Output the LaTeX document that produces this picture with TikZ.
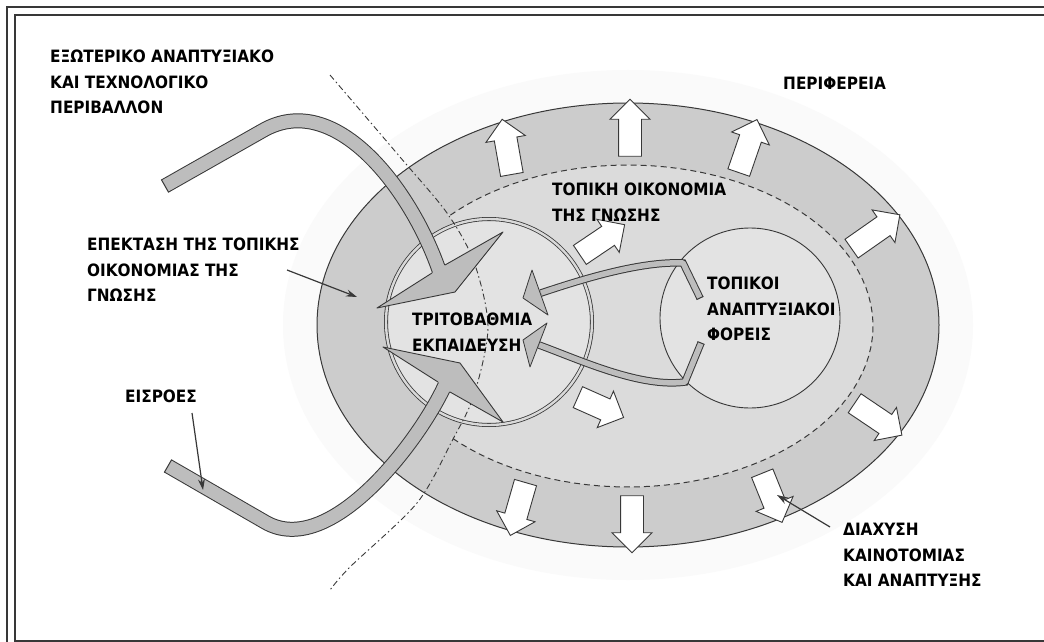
\documentclass[tikz,border=0pt]{standalone}
\usepackage{fontspec}
\newfontfamily\lblfont{DejaVu Sans Condensed}[BoldFont={DejaVu Sans Condensed Bold}]
\usetikzlibrary{shapes.arrows,arrows.meta}
\definecolor{ringc}{gray}{0.80}
\definecolor{innerc}{gray}{0.86}
\definecolor{circc}{gray}{0.89}
\definecolor{bandc}{gray}{0.74}
\definecolor{edgec}{gray}{0.22}
\definecolor{haloc}{gray}{0.982}
\begin{document}
\begin{tikzpicture}[x=1pt,y=-1pt,
  lab/.style={anchor=north west, align=left, inner sep=0pt, text=black,
    font=\lblfont\bfseries\fontsize{17}{25.5}\selectfont},
  warrow/.style={single arrow, draw=edgec, fill=white, line width=0.9pt,
    single arrow head extend=8.5pt, single arrow tip angle=90,
    inner sep=0pt, outer sep=0pt},
  pointer/.style={draw=edgec, line width=1.2pt, -{Stealth[length=11pt,width=7pt]}},
  bigband/.style={draw=bandc, line width=13pt, line join=round,
    preaction={draw=edgec, line width=15pt}},
  smallband/.style={draw=bandc, line width=5.5pt, line join=round,
    preaction={draw=edgec, line width=7.5pt}},
  bandcap/.style={draw=edgec, line width=1pt},
  headfill/.style={fill=bandc},
  headedge/.style={draw=edgec, line width=0.9pt, line join=round},
  dashdot/.style={draw=edgec, line width=0.9pt, dash pattern=on 6pt off 3pt on 1.5pt off 3pt},
  innerdash/.style={draw=edgec, line width=1pt, dash pattern=on 6pt off 4pt}
]
\useasboundingbox (0,0) rectangle (1044,642);
\clip (0,0) rectangle (1044,642);
\fill[white] (0,0) rectangle (1044,642);

% frame
\draw[edgec, line width=2pt] (7,7) rectangle (1070,700);
\draw[edgec, line width=2pt] (15,15) rectangle (1060,641);

% halo and ellipses
\fill[haloc] (628,325) ellipse [x radius=345, y radius=255];
\filldraw[fill=ringc, draw=edgec, line width=1pt] (628,325) ellipse [x radius=311, y radius=222];
\fill[innerc] plot[domain=-136.5:136.5, samples=90] ({628+245*cos(\x)},{326+161*sin(\x)})
  -- plot[smooth] coordinates {(452,441) (474,395) (488,327) (474,262) (447,213)} -- cycle;
\draw[innerdash] plot[domain=-136.5:136.5, samples=90] ({628+245*cos(\x)},{326+161*sin(\x)});

% outward white arrows on the ring
\node[warrow, minimum height=56pt, rotate=100] (w1) at (508,152.5) {\rule{0pt}{22pt}};
\node[warrow, minimum height=57pt, rotate=90] (w2) at (630,133.5) {\rule{0pt}{22pt}};
\node[warrow, minimum height=56pt, rotate=71] (w3) at (746,151.5) {\rule{0pt}{22pt}};
\node[warrow, minimum height=59pt, rotate=35] (w4) at (871,235) {\rule{0pt}{22pt}};
\node[warrow, minimum height=57pt, rotate=-34] (w5) at (873.5,416) {\rule{0pt}{22pt}};
\node[warrow, minimum height=53pt, rotate=-68] (w6) at (770,492.5) {\rule{0pt}{22pt}};
\node[warrow, minimum height=57pt, rotate=-90] (w7) at (632,518.5) {\rule{0pt}{22pt}};
\node[warrow, minimum height=55pt, rotate=-106] (w8) at (519.5,503.5) {\rule{0pt}{22pt}};

% circles
\node[circle, draw=edgec, line width=0.9pt, fill=circc, minimum size=180pt, inner sep=0pt] (agents) at (750,318) {};
\node[circle, draw=edgec, line width=0.8pt, double=white!85!black, double distance=2.4pt,
  fill=circc, minimum size=206pt, inner sep=0pt] (tert) at (489,322) {};

% white arrows from the inner circle
\node[warrow, minimum height=54pt, rotate=34] (w9) at (597.5,243) {\rule{0pt}{22pt}};
\node[warrow, minimum height=50pt, rotate=-24] (w10) at (595.5,405) {\rule{0pt}{22pt}};

% dash-dot boundary
\draw[dashdot] plot[smooth] coordinates {(330,75) (400,157) (447,213) (474,262) (488,327) (474,395) (452,441) (417,503) (350,567) (330,590)};

% big inflow bands
\coordinate (ua) at (165,186);
\coordinate (ub) at (262,131);
\coordinate (uc) at (440,273);
\draw[bigband] (ua) -- (ub) .. controls (335,88) and (412,190) .. (uc);
\draw[bandcap] (161.3,179.5) -- (168.7,192.5);
\fill[headfill] (377,308) -- (432,273) -- (445,265) -- (503,232) -- (455,292) -- cycle;
\draw[headedge] (432,273) -- (377,308) -- (455,292) -- (503,232) -- (445,265);

\coordinate (la) at (168,466);
\coordinate (lb) at (265,522);
\coordinate (lc) at (445,385);
\draw[bigband] (la) -- (lb) .. controls (330,560) and (420,440) .. (lc);
\draw[bandcap] (171.75,459.5) -- (164.25,472.5);
\fill[headfill] (383,347) -- (460,363) -- (503,422) -- (450,392) -- (438,382) -- cycle;
\draw[headedge] (438,382) -- (383,347) -- (460,363) -- (503,422) -- (450,392);

% feedback bands between agents and tertiary education
\coordinate (fa) at (700,298);
\coordinate (fb) at (683,263);
\coordinate (fc) at (541,293);
\draw[smallband] (fa) -- (fb) .. controls (640,261) and (580,280) .. (fc);
\draw[bandcap] (696.6,299.6) -- (703.4,296.4);
\filldraw[fill=bandc, draw=edgec, line width=0.8pt, line join=round] (532,270) -- (523,298) -- (548,315) -- cycle;
\coordinate (ga) at (701,343);
\coordinate (gb) at (685,382);
\coordinate (gc) at (539,345);
\draw[smallband] (ga) -- (gb) .. controls (640,388) and (580,360) .. (gc);
\draw[bandcap] (697.5,341.6) -- (704.5,344.4);
\filldraw[fill=bandc, draw=edgec, line width=0.8pt, line join=round] (547,323) -- (523,340) -- (530,367) -- cycle;

% labels
\node[lab] (ext) at (50,50) {ΕΞΩΤΕΡΙΚΟ ΑΝΑΠΤΥΞΙΑΚΟ\\ΚΑΙ ΤΕΧΝΟΛΟΓΙΚΟ\\ΠΕΡΙΒΑΛΛΟΝ};
\node[lab] (periph) at (783,77) {ΠΕΡΙΦΕΡΕΙΑ};
\node[lab] (local) at (552,183) {ΤΟΠΙΚΗ ΟΙΚΟΝΟΜΙΑ\\ΤΗΣ ΓΝΩΣΗΣ};
\node[lab] (expand) at (87,238) {ΕΠΕΚΤΑΣΗ ΤΗΣ ΤΟΠΙΚΗΣ\\ΟΙΚΟΝΟΜΙΑΣ ΤΗΣ\\ΓΝΩΣΗΣ};
\node[lab] (inputs) at (125,390) {ΕΙΣΡΟΕΣ};
\node[lab] (tertlab) at (412,313) {ΤΡΙΤΟΒΑΘΜΙΑ\\ΕΚΠΑΙΔΕΥΣΗ};
\node[lab] (agentlab) at (707,277) {ΤΟΠΙΚΟΙ\\ΑΝΑΠΤΥΞΙΑΚΟΙ\\ΦΟΡΕΙΣ};
\node[lab] (diff) at (843,523) {ΔΙΑΧΥΣΗ\\ΚΑΙΝΟΤΟΜΙΑΣ\\ΚΑΙ ΑΝΑΠΤΥΞΗΣ};

% pointer arrows
\coordinate (p1s) at (287,270);
\coordinate (p1e) at (357,297);
\draw[pointer] (p1s) -- (p1e);
\coordinate (p2s) at (192,413);
\coordinate (p2e) at (203,490);
\draw[pointer] (p2s) -- (p2e);
\coordinate (p3s) at (830,527);
\coordinate (p3e) at (777,495);
\draw[pointer] (p3s) -- (p3e);
\end{tikzpicture}
\end{document}
